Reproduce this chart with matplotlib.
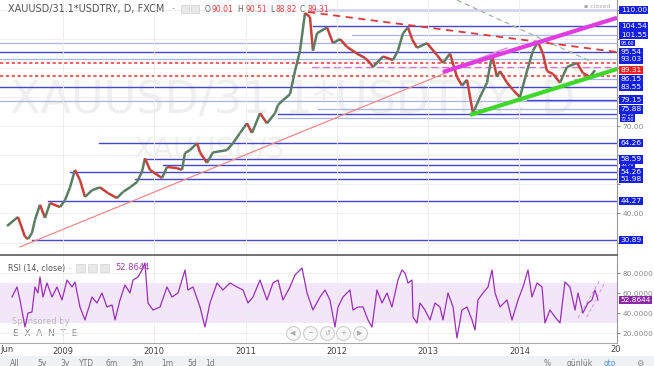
import numpy as np
import matplotlib.pyplot as plt
from matplotlib.collections import LineCollection

# price path (decimal year, TRY per gram)
price_t = [2008.387, 2008.507, 2008.584, 2008.617, 2008.660, 2008.693, 2008.748, 2008.803,
           2008.858, 2008.967, 2009.022, 2009.077, 2009.131, 2009.186, 2009.241, 2009.318,
           2009.405, 2009.493, 2009.591, 2009.657, 2009.734, 2009.810, 2009.865, 2009.898,
           2009.953, 2010.084, 2010.139, 2010.249, 2010.303, 2010.336, 2010.391, 2010.468,
           2010.501, 2010.577, 2010.643, 2010.796, 2010.862, 2010.939, 2011.015, 2011.070,
           2011.158, 2011.234, 2011.322, 2011.355, 2011.409, 2011.486, 2011.541, 2011.596,
           2011.651, 2011.705, 2011.738, 2011.782, 2011.892, 2011.957, 2012.034, 2012.111,
           2012.220, 2012.308, 2012.363, 2012.395, 2012.505, 2012.614, 2012.669, 2012.724,
           2012.779, 2012.823, 2012.877, 2012.987, 2013.096, 2013.162, 2013.239, 2013.315,
           2013.370, 2013.425, 2013.490, 2013.567, 2013.644, 2013.699, 2013.753, 2013.786,
           2013.863, 2013.929, 2014.005, 2014.082, 2014.148, 2014.203, 2014.257, 2014.301,
           2014.367, 2014.444, 2014.520, 2014.630, 2014.695, 2014.772, 2014.827]
price_v = [35.7, 38.8, 32.0, 31.2, 33.3, 37.8, 43.0, 38.5,
           43.6, 42.2, 44.6, 49.0, 55.0, 51.5, 45.7, 48.0,
           49.0, 47.0, 45.3, 47.4, 49.0, 50.8, 54.3, 59.0,
           55.0, 52.2, 56.0, 55.6, 55.0, 60.8, 61.8, 64.2,
           61.0, 57.4, 61.0, 61.8, 64.2, 67.7, 71.0, 67.7,
           74.5, 71.0, 74.5, 77.3, 79.0, 81.0, 89.0, 96.0,
           109.0, 107.6, 96.0, 102.0, 104.0, 98.6, 100.0, 97.3,
           95.0, 93.5, 91.8, 90.4, 94.0, 92.8, 96.0, 102.0,
           104.0, 100.0, 97.0, 98.6, 94.5, 91.8, 95.0, 87.0,
           84.0, 86.0, 74.5, 80.0, 85.0, 94.5, 87.0, 89.0,
           85.0, 82.5, 80.0, 89.0, 96.0, 99.0, 95.0, 89.0,
           88.0, 85.0, 90.4, 91.8, 88.3, 87.0, 89.31]

# RSI(14)
rsi_t = [2008.441, 2008.496, 2008.529, 2008.584, 2008.617, 2008.660, 2008.693, 2008.726,
         2008.748, 2008.781, 2008.825, 2008.880, 2008.934, 2008.989, 2009.044, 2009.099,
         2009.131, 2009.186, 2009.241, 2009.274, 2009.318, 2009.372, 2009.427, 2009.482,
         2009.537, 2009.570, 2009.624, 2009.679, 2009.734, 2009.767, 2009.821, 2009.865,
         2009.898, 2009.931, 2009.986, 2010.063, 2010.139, 2010.194, 2010.260, 2010.336,
         2010.369, 2010.424, 2010.501, 2010.555, 2010.610, 2010.687, 2010.752, 2010.829,
         2010.906, 2010.972, 2011.026, 2011.081, 2011.158, 2011.234, 2011.300, 2011.355,
         2011.409, 2011.486, 2011.541, 2011.618, 2011.673, 2011.738, 2011.815, 2011.870,
         2011.924, 2011.979, 2012.012, 2012.067, 2012.143, 2012.176, 2012.231, 2012.286,
         2012.341, 2012.384, 2012.439, 2012.494, 2012.549, 2012.603, 2012.669, 2012.713,
         2012.746, 2012.779, 2012.823, 2012.834, 2012.877, 2012.910, 2012.965, 2013.020,
         2013.074, 2013.129, 2013.162, 2013.217, 2013.272, 2013.315, 2013.370, 2013.425,
         2013.480, 2013.513, 2013.545, 2013.600, 2013.655, 2013.699, 2013.732, 2013.786,
         2013.863, 2013.918, 2013.984, 2014.038, 2014.093, 2014.137, 2014.192, 2014.247,
         2014.279, 2014.334, 2014.389, 2014.444, 2014.498, 2014.553, 2014.608, 2014.641,
         2014.695, 2014.750, 2014.794, 2014.827, 2014.860]
rsi_v = [56, 66, 53, 26, 40, 41, 66, 60,
         76, 56, 70, 56, 66, 53, 73, 66,
         71, 46, 33, 43, 56, 50, 60, 46,
         48, 33, 53, 68, 60, 73, 76, 83,
         90, 50, 43, 46, 66, 56, 60, 83,
         63, 66, 46, 26, 50, 70, 63, 70,
         66, 63, 50, 56, 73, 53, 70, 73,
         53, 66, 78, 85, 60, 43, 56, 63,
         53, 26, 46, 56, 63, 43, 46, 46,
         33, 26, 63, 50, 60, 46, 73, 83,
         80, 70, 73, 36, 30, 50, 43, 33,
         50, 46, 33, 60, 46, 15, 43, 46,
         33, 23, 53, 60, 66, 83, 60, 46,
         53, 33, 53, 66, 83, 56, 70, 66,
         30, 43, 36, 30, 71, 66, 43, 60,
         40, 50, 53, 63, 52.8644]

# horizontal levels: price, start year
blue_levels = [110.00, 104.54, 95.54, 83.55, 79.15, 74.3, 64.26, 58.59, 56.6, 54.26, 51.98, 44.27, 30.89]
blue_starts = [2011.705, 2011.738, 2008.31, 2008.31, 2014.082, 2011.355, 2009.391, 2009.920,
               2010.095, 2009.077, 2009.789, 2008.836, 2008.660]
light_levels = [101.55, 98.6, 93.03, 86.15, 78.6, 75.88, 73.0]
light_starts = [2012.165, 2008.31, 2008.31, 2014.60, 2008.31, 2011.796, 2011.355]
red_dotted = [91.9, 87.3]
pink_dashed = [90.0]
pink_start = 2011.726

# trend lines: ((t0, p0), (t1, p1))
support_red = ((2008.529, 28.5), (2013.326, 90.05))
channel_magenta = ((2013.162, 88.7), (2015.068, 107.3))
magenta_thin = ((2013.162, 88.7), (2013.863, 96.9))
channel_green = ((2013.458, 73.9), (2015.068, 89.7))
resist_red = ((2011.684, 109.3), (2015.068, 95.55))
grey_dash = ((2013.315, 113.4), (2014.794, 92.1))

box_labels = [110.00, 104.54, 101.55, 95.54, 93.03, 86.15, 83.55, 79.15, 75.88,
              64.26, 58.59, 54.26, 51.98, 44.27, 30.89]
tiny_labels = [98.60, 74.10, 72.50, 56.70]
axis_labels = [40, 70]
last_price = 89.31
last_rsi = 52.8644

years = [2009, 2010, 2011, 2012, 2013, 2014]

W, H = 654, 366
fig = plt.figure(figsize=(W / 100, H / 100), dpi=100)


def fx(px):
    return px / W


def fy(py):
    return 1 - py / H


ax = fig.add_axes([0, fy(255), fx(617), 255 / H])
rx = fig.add_axes([0, fy(343), fx(617), 87 / H])
x0, x1 = 2008.310, 2015.068

# ---- main price panel
ax.set_xlim(x0, x1)
ax.set_ylim(25.72, 113.44)
ax.set_xticks(years)
ticks = np.arange(30, 111, 10)
ax.set_yticks(ticks)
ax.set_yticklabels(["%.2f" % t if t in axis_labels else "" for t in ticks])
ax.yaxis.tick_right()
ax.tick_params(axis='x', length=0, labelbottom=False)
ax.tick_params(axis='y', length=2, pad=2, labelsize=5.3, colors='#888888')
ax.grid(color='#ededed', lw=0.6)
for s in ['top', 'left']:
    ax.spines[s].set_visible(False)
ax.spines['right'].set_color('#999999')
ax.spines['right'].set_linewidth(0.8)
ax.spines['bottom'].set_color('#666666')
ax.spines['bottom'].set_linewidth(1.3)

ax.text(fx(10), fy(100), "XAUUSD/31.1*USDTRY, D", transform=fig.transFigure,
        fontsize=32, color='#efefef', va='center', ha='left', zorder=0)
ax.text(fx(133), fy(150), "XAUUSD/3", transform=fig.transFigure,
        fontsize=21, color='#f0f0f0', va='center', ha='left', zorder=0)

for lv, st in zip(light_levels, light_starts):
    ax.plot([st, x1], [lv, lv], color='#a9b4ec', lw=0.9, zorder=1)
for lv, st in zip(blue_levels, blue_starts):
    ax.plot([st, x1], [lv, lv], color='#4646d6', lw=1.0, zorder=1)
for lv in red_dotted:
    ax.plot([x0, x1], [lv, lv], color='#e84848', lw=1.2, ls=(0, (2, 1.5)), zorder=1)
for lv in pink_dashed:
    ax.plot([pink_start, x1], [lv, lv], color='#e05ae0', lw=1.3, ls=(0, (4, 2)), zorder=1)

ax.plot(*zip(*support_red), color='#f08a8a', lw=0.9, zorder=2)
ax.plot(*zip(*grey_dash), color='#9db59d', lw=0.9, ls=(0, (4, 3)), zorder=2)
ax.plot(*zip(*resist_red), color='#dd3b3b', lw=1.3, ls=(0, (4, 3)), zorder=2)
ax.plot(*zip(*magenta_thin), color='#ee80ee', lw=1.0, zorder=2)

pts = np.column_stack([price_t, price_v])
segs = np.stack([pts[:-1], pts[1:]], axis=1)
cols = ['#5b7d64' if b >= a else '#c8403a' for a, b in zip(price_v[:-1], price_v[1:])]
ax.add_collection(LineCollection(segs, colors=cols, linewidths=1.8, zorder=3))

ax.plot(*zip(*channel_magenta), color='#e03ce0', lw=3, zorder=4, solid_capstyle='butt')
ax.plot(*zip(*channel_green), color='#3fd82a', lw=3, zorder=4, solid_capstyle='butt')

for v in tiny_labels:
    ax.text(1.006, v, "%.2f" % v, transform=ax.get_yaxis_transform(), fontsize=3.4,
            color='white', va='center', ha='left', zorder=5,
            bbox=dict(boxstyle='square,pad=0.12', fc='#1620e0', ec='none'))
for v in box_labels:
    ax.text(1.006, v, "%.2f" % v, transform=ax.get_yaxis_transform(), fontsize=5.3,
            color='white', va='center', ha='left', zorder=6,
            bbox=dict(boxstyle='square,pad=0.18', fc='#1620e0', ec='none'))
ax.text(1.006, last_price, "%.2f" % last_price, transform=ax.get_yaxis_transform(),
        fontsize=5.3, color='white', va='center', ha='left', zorder=7,
        bbox=dict(boxstyle='square,pad=0.18', fc='#ee2222', ec='none'))

# ---- RSI panel
rx.set_xlim(x0, x1)
rx.set_ylim(10, 97)
rx.axhspan(30, 70, color='#f4e6fa', lw=0, zorder=0)
rx.plot(rsi_t, rsi_v, color='#9a2fb5', lw=0.9, zorder=3)
rx.plot([2014.641, 2014.882], [35, 73], color='#c9a8d4', lw=0.8, ls=(0, (3, 2)), zorder=2)
rx.plot([2014.739, 2014.937], [36, 71], color='#c9a8d4', lw=0.8, ls=(0, (3, 2)), zorder=2)
rx.set_xticks(years)
rx.set_xticklabels([str(y) for y in years])
rx.set_yticks([20, 40, 60, 80])
rx.yaxis.tick_right()
rx.yaxis.set_major_formatter(plt.FormatStrFormatter('%.4f'))
rx.tick_params(axis='y', length=2, pad=2, labelsize=5.3, colors='#888888')
rx.tick_params(axis='x', length=0, pad=3, labelsize=6, labelcolor='#444444')
rx.grid(color='#ededed', lw=0.6)
rx.spines['left'].set_visible(False)
rx.spines['top'].set_visible(False)
rx.spines['right'].set_color('#999999')
rx.spines['right'].set_linewidth(0.8)
rx.spines['bottom'].set_color('#aaaaaa')
rx.spines['bottom'].set_linewidth(0.8)
rx.text(1.006, last_rsi, "%.4f" % last_rsi, transform=rx.get_yaxis_transform(), fontsize=5.3,
        color='white', va='center', ha='left', zorder=6,
        bbox=dict(boxstyle='square,pad=0.18', fc='#8a2aa5', ec='none'))

# nav buttons
for px, g in zip([293, 310, 327, 343, 360], ['◀', '−', '↺', '+', '▶']):
    rx.plot(px / 617, 10 / 87, 'o', ms=10, mfc='#f7f7f7', mec='#cfcfcf', mew=0.8,
            transform=rx.transAxes, clip_on=False, zorder=5)
    rx.text(px / 617, 10 / 87, g, transform=rx.transAxes, fontsize=5, color='#aaaaaa',
            ha='center', va='center', zorder=6)

rx.text(fx(12), fy(322), "Sponsored by", transform=fig.transFigure, fontsize=6,
        color='#bbbbbb', va='center', zorder=1)
rx.text(fx(13), fy(333), "E  X  A  N  T  E", transform=fig.transFigure, fontsize=6.5,
        color='#888888', va='center', zorder=1)

# ---- header texts
fig.text(fx(8), fy(9), "XAUUSD/31.1*USDTRY, D, FXCM", fontsize=7.0, color='#555555', va='center')
fig.text(fx(172), fy(9), "-", fontsize=6, color='#999999', va='center')
for px in [181, 191]:
    fig.patches.append(plt.Rectangle((fx(px), fy(13)), fx(8), 8 / H, transform=fig.transFigure,
                                     fc='#e8e8e8', ec='#d0d0d0', lw=0.5))
for px, s, c in [(205, 'O', '#666666'), (212, '90.01', '#e04040'), (237, 'H', '#666666'),
                 (245, '90.51', '#e04040'), (270, 'L', '#666666'), (276, '88.82', '#e04040'),
                 (300, 'C', '#666666'), (307, '89.31', '#e04040')]:
    fig.text(fx(px), fy(9), s, fontsize=5.5, color=c, va='center')
fig.text(fx(584), fy(6), "▪ closed", fontsize=4.5, color='#aaaaaa', va='center')

fig.text(fx(8), fy(268), "RSI (14, close)", fontsize=5.8, color='#555555', va='center')
fig.text(fx(69), fy(268), "-", fontsize=5, color='#aaaaaa', va='center')
for px in [76, 88, 100]:
    fig.patches.append(plt.Rectangle((fx(px), fy(272)), fx(9), 8 / H, transform=fig.transFigure,
                                     fc='#e8e8e8', ec='#d6d6d6', lw=0.5))
fig.text(fx(115), fy(268), "%.4f" % last_rsi, fontsize=6, color='#a040b0', va='center')

# x axis extras
fig.text(fx(0), fy(350), "Jun", fontsize=6, color='#444444', va='center')
fig.text(fx(610), fy(350), "20", fontsize=6, color='#444444', va='center')

# bottom toolbar
fig.patches.append(plt.Rectangle((0, 0), 1, 10 / H, transform=fig.transFigure,
                                 fc='#eff1f3', ec='none'))
for px, s in zip([15, 42, 65, 87, 112, 138, 167, 192, 210],
                 ['All', '5y', '3y', 'YTD', '6m', '3m', '1m', '5d', '1d']):
    fig.text(fx(px), fy(363), s, fontsize=5.5, color='#777777', ha='center', va='center')
fig.text(fx(547), fy(363), "%", fontsize=5.5, color='#777777', ha='center', va='center')
fig.text(fx(580), fy(363), "günlük", fontsize=5.5, color='#777777', ha='center', va='center')
fig.text(fx(610), fy(363), "oto", fontsize=5.5, color='#4a90d9', ha='center', va='center')
fig.text(fx(640), fy(363), "⚙", fontsize=6, color='#888888', ha='center', va='center')

fig.savefig('out.png', dpi=100)
